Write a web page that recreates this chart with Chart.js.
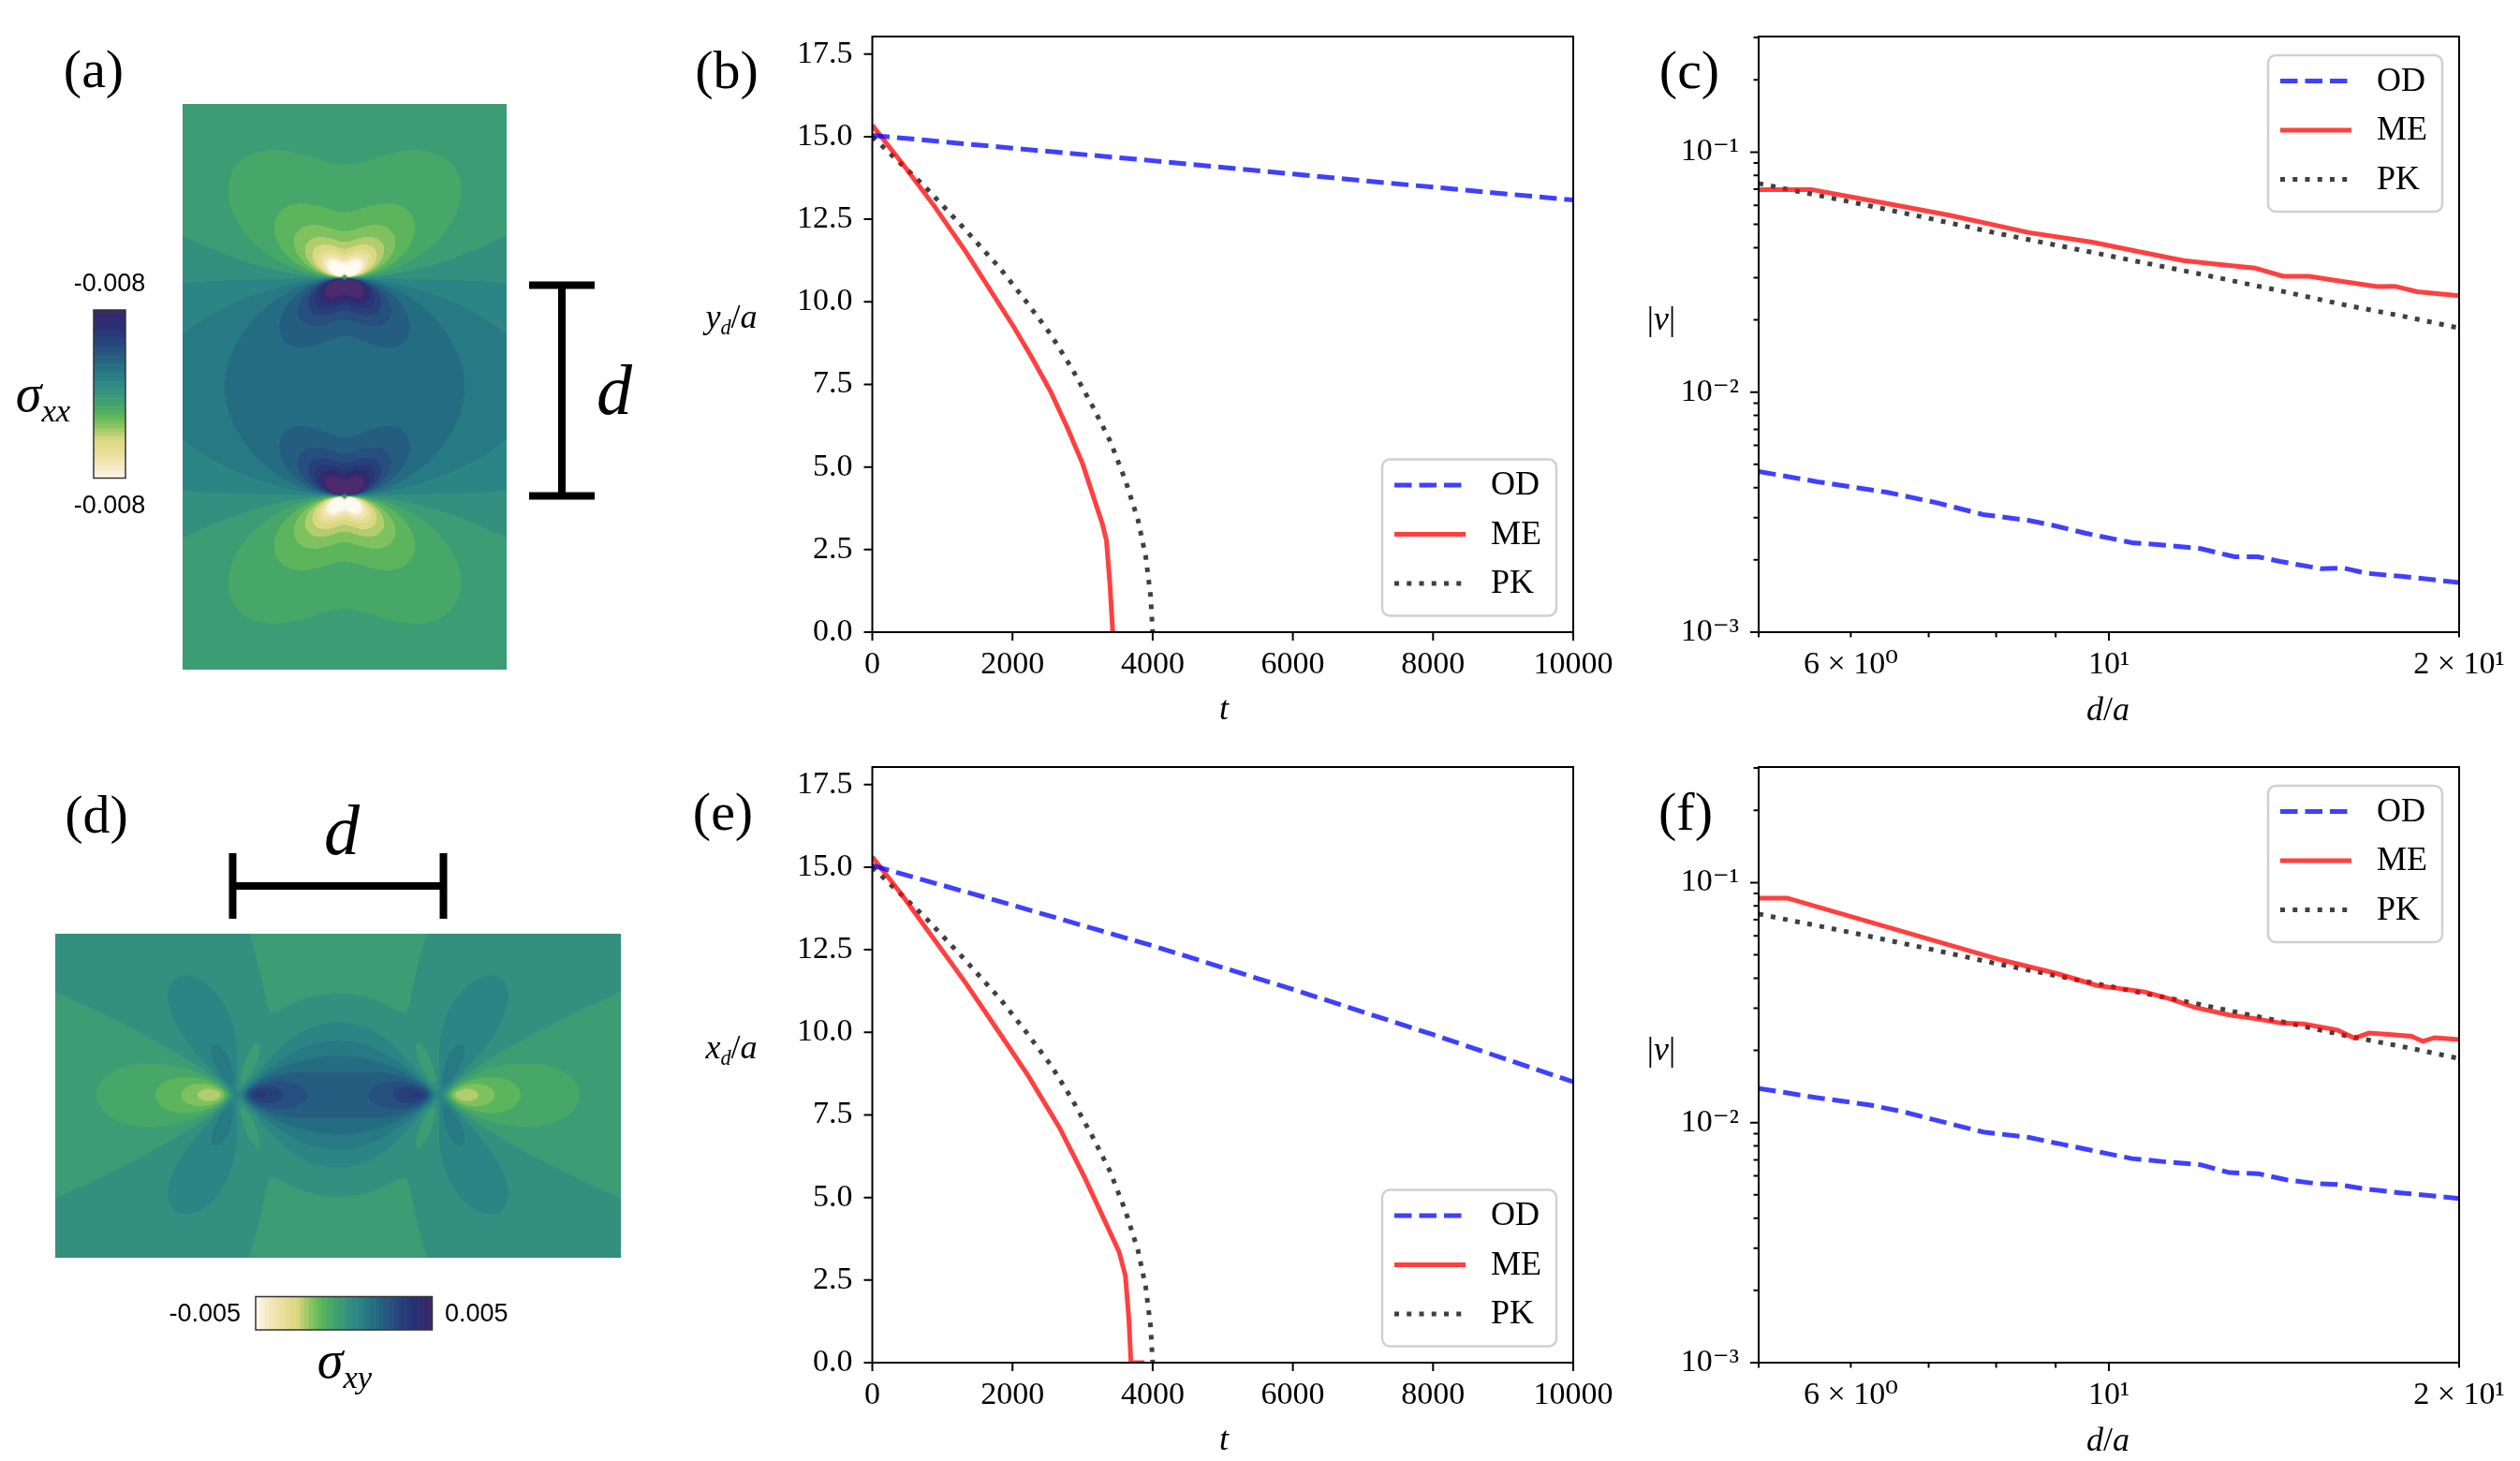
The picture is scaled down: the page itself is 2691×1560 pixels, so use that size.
<!DOCTYPE html>
<html>
<head>
<meta charset="utf-8">
<title>Dislocation dipole: stress fields and annihilation</title>
<script src="https://cdn.jsdelivr.net/npm/chart.js@4.4.1/dist/chart.umd.min.js"></script>
<style>
  html, body { margin: 0; padding: 0; background: #fff; }
  body { width: 2691px; height: 1560px; position: relative; overflow: hidden;
         font-family: 'Liberation Serif', 'DejaVu Serif', serif; color: #000; }
  .box { position: absolute; }
  .lbl, .lr, .ll { position: absolute; white-space: nowrap; line-height: 1;
                   font-family: 'Liberation Serif', 'DejaVu Serif', serif; }
  .lbl { transform: translate(-50%, -50%); }
  .lr { transform: translate(-100%, -50%); }
  .ll { transform: translate(0, -50%); }
  .lbl i { font-family: 'Liberation Serif', 'DejaVu Serif', serif; font-style: italic; }
  .panel { font-size: 58px; }
  .ax { font-size: 36px; }
  .sub { font-size: 0.62em; position: relative; top: 0.32em; font-style: italic; }
  .sans { font-family: 'Liberation Sans', Arial, sans-serif; font-size: 27px; }
  .sig { font-size: 56px; }
  .dl { font-size: 76px; font-style: italic; }
</style>
</head>
<body>

<div class="box" style="left:0;top:0;width:720px;height:780px"><canvas id="fieldXX"></canvas></div>
<div class="box" style="left:720px;top:0;width:1020px;height:780px"><canvas id="posY"></canvas></div>
<div class="box" style="left:1740px;top:0;width:951px;height:780px"><canvas id="velY"></canvas></div>
<div class="box" style="left:0;top:780px;width:720px;height:780px"><canvas id="fieldXY"></canvas></div>
<div class="box" style="left:720px;top:780px;width:1020px;height:780px"><canvas id="posX"></canvas></div>
<div class="box" style="left:1740px;top:780px;width:951px;height:780px"><canvas id="velX"></canvas></div>

<!-- panel letters -->
<div class="lbl panel" style="left:100px;top:74px">(a)</div>
<div class="lbl panel" style="left:776px;top:75px">(b)</div>
<div class="lbl panel" style="left:1804px;top:75px">(c)</div>
<div class="lbl panel" style="left:103px;top:870px">(d)</div>
<div class="lbl panel" style="left:772px;top:867px">(e)</div>
<div class="lbl panel" style="left:1800px;top:867px">(f)</div>

<!-- axis titles -->
<div class="lbl ax" style="left:781px;top:338px"><i>y</i><span class="sub">d</span>/<i>a</i></div>
<div class="lbl ax" style="left:1307px;top:756px"><i>t</i></div>
<div class="lbl ax" style="left:1774px;top:340px">|<i>v</i>|</div>
<div class="lbl ax" style="left:2251px;top:757px"><i>d</i>/<i>a</i></div>
<div class="lbl ax" style="left:781px;top:1118px"><i>x</i><span class="sub">d</span>/<i>a</i></div>
<div class="lbl ax" style="left:1307px;top:1536px"><i>t</i></div>
<div class="lbl ax" style="left:1774px;top:1120px">|<i>v</i>|</div>
<div class="lbl ax" style="left:2251px;top:1537px"><i>d</i>/<i>a</i></div>

<!-- colour bar and scale-bar annotations -->
<div class="lbl sans" style="left:117px;top:302px">-0.008</div>
<div class="lbl sans" style="left:117px;top:539px">-0.008</div>
<div class="lbl sig" style="left:46px;top:420px"><i>σ</i><span class="sub">xx</span></div>
<div class="lbl dl" style="left:656px;top:416px"><i>d</i></div>
<div class="lr sans" style="left:257px;top:1402px">-0.005</div>
<div class="ll sans" style="left:475px;top:1402px">0.005</div>
<div class="lbl sig" style="left:368px;top:1452px"><i>σ</i><span class="sub">xy</span></div>
<div class="lbl dl" style="left:365px;top:886px"><i>d</i></div>

<script>
// Data

// (b) vertical dipole: y_d/a against t
const tOD_b = [0, 2000, 4000, 6000, 8000, 10000];
const yOD_b = [15.04, 14.65, 14.27, 13.87, 13.47, 13.08];
const tME_b = [0, 430, 880, 1330, 1790, 2030, 2280, 2540, 2780, 3000, 3170, 3280, 3340, 3390, 3430];
const yME_b = [15.34, 14.18, 12.91, 11.53, 10.0, 9.2, 8.3, 7.3, 6.2, 5.1, 4.0, 3.29, 2.78, 1.45, 0];

// PK curve, same in (b) and (e)
const tPK = [0, 740, 1280, 1820, 2180, 2540, 2850, 3140, 3390, 3610, 3790, 3900, 3970, 4000];
const yPK = [15.0, 13.51, 12.29, 11.02, 10.05, 9.03, 7.97, 6.85, 5.8, 4.6, 3.4, 2.3, 1.1, 0];

// (e) horizontal dipole: x_d/a against t
const tOD_e = [0, 2000, 4000, 6000, 8000, 10000];
const yOD_e = [15.05, 13.85, 12.62, 11.3, 9.93, 8.5];
const tME_e = [0, 430, 880, 1330, 1770, 2220, 2670, 3030, 3300, 3520, 3610, 3660, 3690, 3880];
const yME_e = [15.31, 14.14, 12.82, 11.5, 10.12, 8.7, 7.12, 5.6, 4.37, 3.36, 2.64, 1.32, 0, 0];

// (c) |v| against d/a, vertical dipole
const dOD_c = [5.0, 5.62, 6.44, 7.13, 7.8, 8.54, 8.94, 9.56, 10.47, 11.2, 11.99, 12.83, 13.43, 14.04, 15.2, 15.9, 16.63, 17.81, 20];
const vOD_c = [0.00467, 0.00423, 0.00383, 0.00345, 0.00309, 0.00292, 0.00279, 0.00258, 0.00236, 0.0023, 0.00223, 0.00206, 0.00206, 0.00197, 0.00184, 0.00185, 0.00176, 0.00171, 0.00161];
const dME_c = [5.0, 5.55, 6.22, 7.29, 8.54, 9.67, 10.47, 11.59, 12.41, 13.35, 14.12, 14.86, 15.72, 17.01, 17.61, 18.41, 20];
const vME_c = [0.0698, 0.0698, 0.063, 0.0546, 0.0462, 0.0422, 0.039, 0.0353, 0.0341, 0.0329, 0.0304, 0.0304, 0.0291, 0.0275, 0.0276, 0.0262, 0.0252];

// PK curve, same in (c) and (f)
const dPK = [5, 6, 7, 8, 10, 12, 14, 16, 18, 20];
const vPK = [0.074, 0.062, 0.053, 0.046, 0.037, 0.031, 0.0265, 0.023, 0.0206, 0.0185];

// (f) |v| against d/a, horizontal dipole
const dOD_f = [5.0, 5.62, 6.22, 6.66, 7.29, 7.8, 8.54, 9.14, 9.78, 10.47, 11.2, 11.99, 12.69, 13.43, 14.21, 15.03, 15.72, 16.63, 17.81, 20];
const vOD_f = [0.01388, 0.01269, 0.01186, 0.01109, 0.00991, 0.00914, 0.00867, 0.0081, 0.00757, 0.00708, 0.00686, 0.00668, 0.00619, 0.00613, 0.00578, 0.00558, 0.00553, 0.00529, 0.0051, 0.00483];
const dME_f = [5.0, 5.29, 8.07, 9.04, 9.78, 10.12, 10.71, 11.33, 11.85, 12.69, 13.43, 14.04, 14.69, 15.72, 16.26, 16.73, 17.61, 18.2, 18.62, 19.05, 20];
const vME_f = [0.0862, 0.0862, 0.0477, 0.0417, 0.0372, 0.0364, 0.0351, 0.0326, 0.0302, 0.0281, 0.027, 0.026, 0.0258, 0.0243, 0.0225, 0.0236, 0.0232, 0.0229, 0.0218, 0.0226, 0.0222];

// ticks
const timeTicks = [0, 2000, 4000, 6000, 8000, 10000];
const posTicks = [0, 2.5, 5, 7.5, 10, 12.5, 15, 17.5];
const distTicks = [6, 10, 20];
const distLabels = ['6 × 10⁰', '10¹', '2 × 10¹'];
const distMinor = [5, 6, 7, 8, 9, 20];
const velTicks = [0.001, 0.01, 0.1];
const velLabels = ['10⁻³', '10⁻²', '10⁻¹'];
const velMinor = [0.002, 0.003, 0.004, 0.005, 0.006, 0.007, 0.008, 0.009,
                  0.02, 0.03, 0.04, 0.05, 0.06, 0.07, 0.08, 0.09, 0.2, 0.3];

// dislocation dipoles shown in (a) and (d), in units of a
const dipoleXX_x = [0, 0];
const dipoleXX_y = [7.5, -7.5];
const dipoleXX_s = [1, -1];
const dipoleXY_x = [-7.5, 7.5];
const dipoleXY_y = [0, 0];
const dipoleXY_s = [1, -1];

// colour map of the contour plots (light = negative, dark = positive)
const cmapPos = [0.0, 0.06, 0.14, 0.24, 0.3, 0.36, 0.42, 0.5, 0.58, 0.66, 0.74, 0.82, 0.9, 0.97, 1.0];
const cmapRGB = [
  [255, 251, 242], [246, 234, 200], [236, 224, 160], [215, 214, 125], [150, 198, 100],
  [98, 185, 88], [72, 168, 104], [55, 150, 122], [42, 132, 134], [36, 112, 131],
  [37, 88, 128], [39, 65, 124], [40, 48, 116], [52, 40, 108], [66, 42, 104]
];

Chart.defaults.font.family = "'Liberation Serif', 'DejaVu Serif', serif";
Chart.defaults.color = '#000';
Chart.defaults.animation = false;

function cmap(f) {
  f = Math.min(1, Math.max(0, f));
  for (let k = 1; k < cmapPos.length; k++) {
    if (f <= cmapPos[k]) {
      const t = (f - cmapPos[k - 1]) / (cmapPos[k] - cmapPos[k - 1]);
      return cmapRGB[k - 1].map((c, i) => Math.round(c + t * (cmapRGB[k][i] - c)));
    }
  }
  return cmapRGB[cmapRGB.length - 1];
}

// filled contour plot of the dipole stress field, plus colour bar and scale bar
const stressField = {
  id: 'stressField',
  beforeDatasetsDraw(chart, args, o) {
    const { ctx, chartArea: a, scales: { x, y } } = chart;
    const w = Math.round(a.right - a.left), h = Math.round(a.bottom - a.top);
    const off = document.createElement('canvas');
    off.width = w; off.height = h;
    const octx = off.getContext('2d');
    const img = octx.createImageData(w, h);
    const pts = chart.data.datasets[0].data;
    const [lo, hi] = o.range;
    const lut = [];
    for (let k = 0; k < o.levels; k++) lut.push(cmap((k + 0.5) / o.levels));
    const c2 = o.core * o.core;
    for (let j = 0; j < h; j++) {
      const Y = y.getValueForPixel(a.top + j + 0.5);
      for (let i = 0; i < w; i++) {
        const X = x.getValueForPixel(a.left + i + 0.5);
        let v = 0;
        for (const p of pts) {
          const dx = X - p.x, dy = Y - p.y;
          const q = dx * dx + dy * dy + c2;
          if (o.component === 'xx') v += -o.amp * p.s * dy * (3 * dx * dx + dy * dy) / (q * q);
          else v += o.amp * p.s * dx * (dx * dx - dy * dy) / (q * q);
        }
        let col;
        if (v >= hi) col = o.over;
        else if (v < lo) col = cmapRGB[0];
        else col = lut[Math.floor((v - lo) / (hi - lo) * o.levels)];
        const n = (j * w + i) * 4;
        img.data[n] = col[0]; img.data[n + 1] = col[1]; img.data[n + 2] = col[2]; img.data[n + 3] = 255;
      }
    }
    octx.putImageData(img, 0, 0);
    ctx.drawImage(off, a.left, a.top, w, h);
  },
  afterDraw(chart, args, o) {
    const { ctx, chartArea: a, scales: { x, y } } = chart;
    const cb = o.colorbar;
    const n = 40;
    ctx.save();
    for (let k = 0; k < n; k++) {
      const c = cmap((k + 0.5) / n);
      ctx.fillStyle = `rgb(${c[0]},${c[1]},${c[2]})`;
      if (cb.vertical) {
        const bh = cb.h / n;
        ctx.fillRect(cb.x, cb.y + cb.h - (k + 1) * bh, cb.w, bh + 0.5);
      } else {
        const bw = cb.w / n;
        ctx.fillRect(cb.x + k * bw, cb.y, bw + 0.5, cb.h);
      }
    }
    ctx.strokeStyle = '#333';
    ctx.lineWidth = 1.5;
    ctx.strokeRect(cb.x, cb.y, cb.w, cb.h);

    // scale bar between the two dislocations
    const b = o.bar;
    const pts = chart.data.datasets[0].data;
    ctx.strokeStyle = '#000';
    ctx.lineWidth = b.width;
    ctx.lineCap = 'butt';
    ctx.beginPath();
    if (b.orient === 'v') {
      const xb = a.right + b.offset;
      const y1 = y.getPixelForValue(Math.max(...pts.map(p => p.y))) + b.shift;
      const y2 = y.getPixelForValue(Math.min(...pts.map(p => p.y)));
      ctx.moveTo(xb, y1); ctx.lineTo(xb, y2);
      ctx.moveTo(xb - b.cap, y1); ctx.lineTo(xb + b.cap, y1);
      ctx.moveTo(xb - b.cap, y2); ctx.lineTo(xb + b.cap, y2);
    } else {
      const yb = a.top - b.offset;
      const x1 = x.getPixelForValue(Math.min(...pts.map(p => p.x))) - b.shift;
      const x2 = x.getPixelForValue(Math.max(...pts.map(p => p.x))) + b.shift;
      ctx.moveTo(x1, yb); ctx.lineTo(x2, yb);
      ctx.moveTo(x1, yb - b.cap); ctx.lineTo(x1, yb + b.cap);
      ctx.moveTo(x2, yb - b.cap); ctx.lineTo(x2, yb + b.cap);
    }
    ctx.stroke();
    ctx.restore();
  }
};

function fieldChart(id, xs, ys, ss, xr, yr, pad, field) {
  new Chart(document.getElementById(id), {
    type: 'scatter',
    data: { datasets: [{ data: xs.map((v, i) => ({ x: v, y: ys[i], s: ss[i] })), pointRadius: 0 }] },
    options: {
      responsive: true,
      maintainAspectRatio: false,
      layout: { padding: pad },
      scales: {
        x: { type: 'linear', min: xr[0], max: xr[1], display: false },
        y: { type: 'linear', min: yr[0], max: yr[1], display: false }
      },
      plugins: { legend: { display: false }, tooltip: { enabled: false }, stressField: field }
    },
    plugins: [stressField]
  });
}

// axes frame and tick marks (major long, minor short)
const frame = {
  id: 'frame',
  afterDraw(chart, args, o) {
    const { ctx, chartArea: a, scales: { x, y } } = chart;
    ctx.save();
    ctx.strokeStyle = '#000';
    ctx.lineWidth = 2;
    ctx.beginPath();
    const tx = (vals, len) => vals.forEach(v => { const p = x.getPixelForValue(v); ctx.moveTo(p, a.bottom); ctx.lineTo(p, a.bottom + len); });
    const ty = (vals, len) => vals.forEach(v => { const p = y.getPixelForValue(v); ctx.moveTo(a.left, p); ctx.lineTo(a.left - len, p); });
    tx(o.xMajor, 9); tx(o.xMinor || [], 5.5);
    ty(o.yMajor, 9); ty(o.yMinor || [], 5.5);
    ctx.stroke();
    ctx.strokeRect(a.left, a.top, a.right - a.left, a.bottom - a.top);
    ctx.restore();
  }
};

// matplotlib style legend box
const legendBox = {
  id: 'legendBox',
  afterDraw(chart, args, o) {
    const { ctx, chartArea: a } = chart;
    const w = 186, h = 167;
    const left = a.right - 18 - w;
    const top = o.corner === 'top' ? a.top + 20 : a.bottom - 17.5 - h;
    ctx.save();
    ctx.beginPath();
    ctx.roundRect(left, top, w, h, 8);
    ctx.fillStyle = 'rgba(255,255,255,0.8)';
    ctx.fill();
    ctx.strokeStyle = '#d0d0d0';
    ctx.lineWidth = 2.5;
    ctx.stroke();
    chart.data.datasets.forEach((ds, i) => {
      const ry = top + 27.5 + i * 52.5;
      ctx.beginPath();
      ctx.strokeStyle = ds.borderColor;
      ctx.lineWidth = ds.borderWidth;
      ctx.setLineDash(ds.borderDash || []);
      ctx.lineCap = 'butt';
      ctx.moveTo(left + 13, ry);
      ctx.lineTo(left + 89, ry);
      ctx.stroke();
      ctx.setLineDash([]);
      ctx.fillStyle = '#000';
      ctx.font = "36px 'Liberation Serif', serif";
      ctx.textBaseline = 'middle';
      ctx.fillText(ds.label, left + 116, ry + 1);
    });
    ctx.restore();
  }
};

function series(label, xs, ys, style) {
  return Object.assign({
    label: label,
    data: xs.map((v, i) => ({ x: v, y: ys[i] })),
    pointRadius: 0, borderWidth: 5, tension: 0, fill: false, borderCapStyle: 'butt'
  }, style);
}
const OD = { borderColor: 'rgba(0,0,255,0.75)', borderDash: [18.5, 8] };
const ME = { borderColor: 'rgba(255,0,0,0.75)' };
const PK = { borderColor: 'rgba(0,0,0,0.75)', borderDash: [5, 8.25] };

function axis(type, min, max, ticks, labels, pad, fit) {
  return {
    type: type, min: min, max: max,
    grid: { drawOnChartArea: false, drawTicks: true, tickLength: 9, tickColor: 'rgba(0,0,0,0)' },
    border: { display: false },
    ticks: {
      autoSkip: false, maxRotation: 0, minRotation: 0, padding: pad,
      font: { size: 34 }, color: '#000',
      callback: (v, i) => labels[i]
    },
    afterBuildTicks: s => { s.ticks = ticks.map(v => ({ value: v })); },
    afterFit: fit
  };
}

function linePanel(id, datasets, xAxis, yAxis, padRight, frameOpts, corner) {
  new Chart(document.getElementById(id), {
    type: 'line',
    data: { datasets: datasets },
    options: {
      responsive: true,
      maintainAspectRatio: false,
      layout: { padding: { left: 0, right: padRight, top: 39, bottom: 0 } },
      scales: { x: xAxis, y: yAxis },
      plugins: { legend: { display: false }, tooltip: { enabled: false }, frame: frameOpts, legendBox: { corner: corner } }
    },
    plugins: [frame, legendBox]
  });
}

// (a) sigma_xx of the vertical dipole
fieldChart('fieldXX', dipoleXX_x, dipoleXX_y, dipoleXX_s, [-11.14, 11.14], [-19.45, 19.45],
  { left: 195, right: 179, top: 111, bottom: 65 },
  { component: 'xx', amp: 0.0095, core: 0.31, range: [-0.008, 0.008], levels: 20, over: [76, 42, 110],
    colorbar: { x: 100, y: 331, w: 34, h: 179.5, vertical: true },
    bar: { orient: 'v', offset: 59, cap: 35, width: 8, shift: 8 } });

// (d) sigma_xy of the horizontal dipole
fieldChart('fieldXY', dipoleXY_x, dipoleXY_y, dipoleXY_s, [-20.87, 20.87], [-11.94, 11.94],
  { left: 59, right: 57, top: 216.5, bottom: 218 },
  { component: 'xy', amp: 0.009, core: 1.0, range: [-0.005, 0.005], levels: 20, over: [76, 42, 110],
    colorbar: { x: 273, y: 604.5, w: 188.5, h: 35.5, vertical: false },
    bar: { orient: 'h', offset: 50.5, cap: 35, width: 8, shift: 4 } });

const timeLabels = timeTicks.map(v => String(v));
const posLabels = posTicks.map(v => v.toFixed(1));
const fitY211 = s => { s.width = 211.5; };
const fitY138 = s => { s.width = 138; };
const fitX = s => { s.height = 105; };

// (b)
linePanel('posY',
  [series('OD', tOD_b, yOD_b, OD), series('ME', tME_b, yME_b, ME), series('PK', tPK, yPK, PK)],
  axis('linear', 0, 10000, timeTicks, timeLabels, 6, fitX),
  axis('linear', 0, 18.03, posTicks, posLabels, 12, fitY211),
  60, { xMajor: timeTicks, yMajor: posTicks }, 'bottom');

// (e)
linePanel('posX',
  [series('OD', tOD_e, yOD_e, OD), series('ME', tME_e, yME_e, ME), series('PK', tPK, yPK, PK)],
  axis('linear', 0, 10000, timeTicks, timeLabels, 6, fitX),
  axis('linear', 0, 18.03, posTicks, posLabels, 12, fitY211),
  60, { xMajor: timeTicks, yMajor: posTicks }, 'bottom');

// (c)
linePanel('velY',
  [series('OD', dOD_c, vOD_c, OD), series('ME', dME_c, vME_c, ME), series('PK', dPK, vPK, PK)],
  axis('logarithmic', 5, 20, distTicks, distLabels, 6, fitX),
  axis('logarithmic', 0.001, 0.303, velTicks, velLabels, 12, fitY138),
  65, { xMajor: [10], xMinor: distMinor, yMajor: velTicks, yMinor: velMinor }, 'top');

// (f)
linePanel('velX',
  [series('OD', dOD_f, vOD_f, OD), series('ME', dME_f, vME_f, ME), series('PK', dPK, vPK, PK)],
  axis('logarithmic', 5, 20, distTicks, distLabels, 6, fitX),
  axis('logarithmic', 0.001, 0.303, velTicks, velLabels, 12, fitY138),
  65, { xMajor: [10], xMinor: distMinor, yMajor: velTicks, yMinor: velMinor }, 'top');
</script>
</body>
</html>
